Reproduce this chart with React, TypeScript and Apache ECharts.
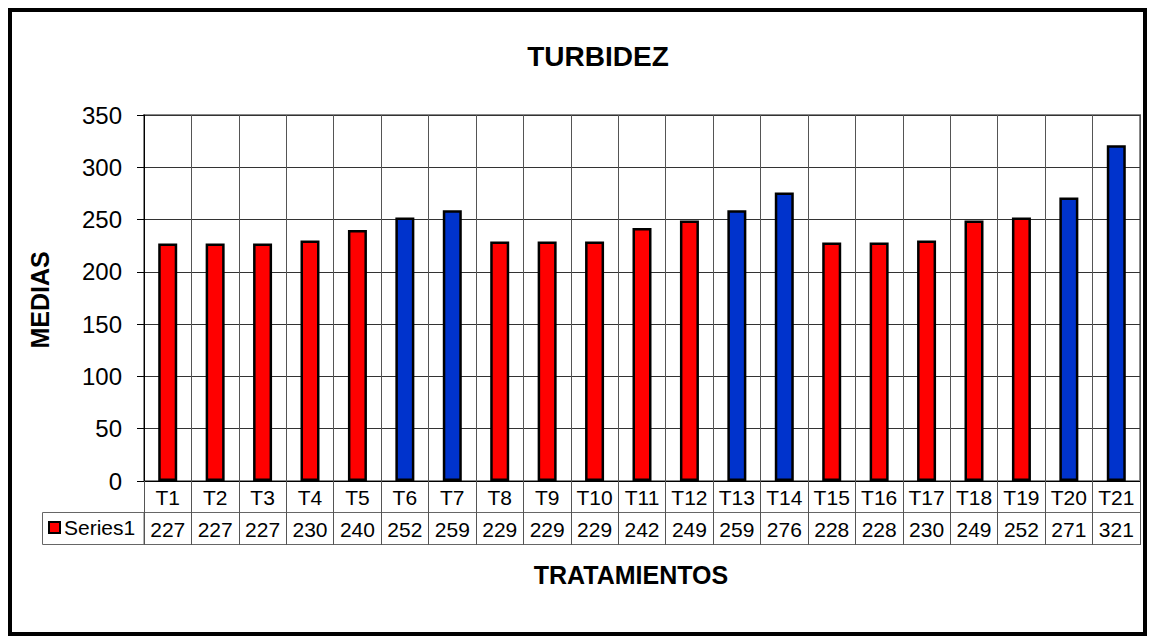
import React, { useEffect, useRef } from "react";
import * as echarts from "echarts";

const categories = ["T1","T2","T3","T4","T5","T6","T7","T8","T9","T10","T11","T12","T13","T14","T15","T16","T17","T18","T19","T20","T21"];
const values = [227, 227, 227, 230, 240, 252, 259, 229, 229, 229, 242, 249, 259, 276, 228, 228, 230, 249, 252, 271, 321];
const blueCategories = ["T6", "T7", "T13", "T14", "T20", "T21"];
const yTicks = { min: 0, max: 350, interval: 50 };
const seriesName = "Series1";
const titleText = "TURBIDEZ";
const yTitle = "MEDIAS";
const xTitle = "TRATAMIENTOS";

const RED = "#FF0000";
const BLUE = "#0033CC";
const FONT = "'Liberation Sans', Arial, sans-serif";

export default function App() {
  const ref = useRef<HTMLDivElement>(null);
  useEffect(() => {
    if (!ref.current) return;
    const chart = echarts.init(ref.current, undefined, { renderer: "svg" });
    const data = values.map((v, i) => ({
      value: v,
      itemStyle: { color: blueCategories.includes(categories[i]) ? BLUE : RED },
    }));
    chart.setOption({
      animation: false,
      backgroundColor: "#fff",
      textStyle: { fontFamily: FONT },
      grid: {
        left: 144,
        top: 115,
        right: 11,
        bottom: 157,
        show: true,
        borderColor: "#888",
        borderWidth: 2,
        containLabel: false,
      },
      legend: {
        data: [seriesName],
        left: 48,
        top: 517,
        itemWidth: 11,
        itemHeight: 11,
        itemGap: 4,
        icon: "rect",
        padding: 0,
        textStyle: { fontFamily: FONT, fontSize: 21, color: "#000", padding: [2, 0, 0, -1] },
        selectedMode: false,
        itemStyle: { color: RED, borderColor: "#000", borderWidth: 2 },
      },
      xAxis: [
        {
          type: "category",
          data: categories,
          boundaryGap: true,
          axisLine: { show: true, lineStyle: { color: "#000", width: 1 } },
          axisTick: { show: true, length: 64, interval: 0, lineStyle: { color: "#555" } },
          axisLabel: { interval: 0, fontSize: 21, color: "#000", fontFamily: FONT, margin: 6 },
          splitLine: { show: true, interval: 0, lineStyle: { color: "#555", width: 1 } },
        },
        {
          type: "category",
          data: values.map(String),
          position: "bottom",
          offset: 31,
          boundaryGap: true,
          axisLine: { show: true, lineStyle: { color: "#666", width: 1 } },
          axisTick: { show: false },
          axisLabel: { interval: 0, fontSize: 21, color: "#000", fontFamily: FONT, margin: 7 },
          splitLine: { show: false },
        },
        {
          type: "category",
          data: categories,
          position: "bottom",
          offset: 63,
          boundaryGap: true,
          axisLine: { show: true, lineStyle: { color: "#666", width: 1 } },
          axisTick: { show: false },
          axisLabel: { show: false },
          splitLine: { show: false },
        },
      ],
      yAxis: {
        type: "value",
        min: yTicks.min,
        max: yTicks.max,
        interval: yTicks.interval,
        axisLine: { show: true, lineStyle: { color: "#000", width: 1 } },
        axisTick: { show: true, length: 7, lineStyle: { color: "#000" } },
        axisLabel: { fontSize: 24, color: "#000", fontFamily: FONT, margin: 22 },
        splitLine: { show: true, lineStyle: { color: "#333", width: 1 } },
      },
      series: [
        {
          name: seriesName,
          type: "bar",
          xAxisIndex: 0,
          data,
          barWidth: 19,
          itemStyle: { color: RED, borderColor: "#000", borderWidth: 2.5 },
        },
      ],
      graphic: [
        {
          type: "rect",
          shape: { x: 10, y: 10, width: 1135, height: 624 },
          style: { fill: "none", stroke: "#000", lineWidth: 4 },
          silent: true,
        },
        {
          type: "rect",
          shape: { x: 42.5, y: 512.5, width: 101.5, height: 32 },
          style: { fill: "none", stroke: "#666", lineWidth: 1 },
          silent: true,
        },
        {
          type: "text",
          x: 598,
          y: 56,
          style: {
            text: titleText,
            font: `bold 28px ${FONT}`,
            fill: "#000",
            align: "center",
            verticalAlign: "middle",
          },
        },
        {
          type: "text",
          x: 631,
          y: 575,
          style: {
            text: xTitle,
            font: `bold 25px ${FONT}`,
            fill: "#000",
            align: "center",
            verticalAlign: "middle",
          },
        },
        {
          type: "text",
          x: 40,
          y: 300,
          rotation: Math.PI / 2,
          style: {
            text: yTitle,
            font: `bold 25px ${FONT}`,
            fill: "#000",
            align: "center",
            verticalAlign: "middle",
          },
        },
      ],
    });
    return () => chart.dispose();
  }, []);
  return (
    <div
      ref={ref}
      style={{ position: "fixed", left: 0, top: 0, width: 1151, height: 638, background: "#fff" }}
    />
  );
}
